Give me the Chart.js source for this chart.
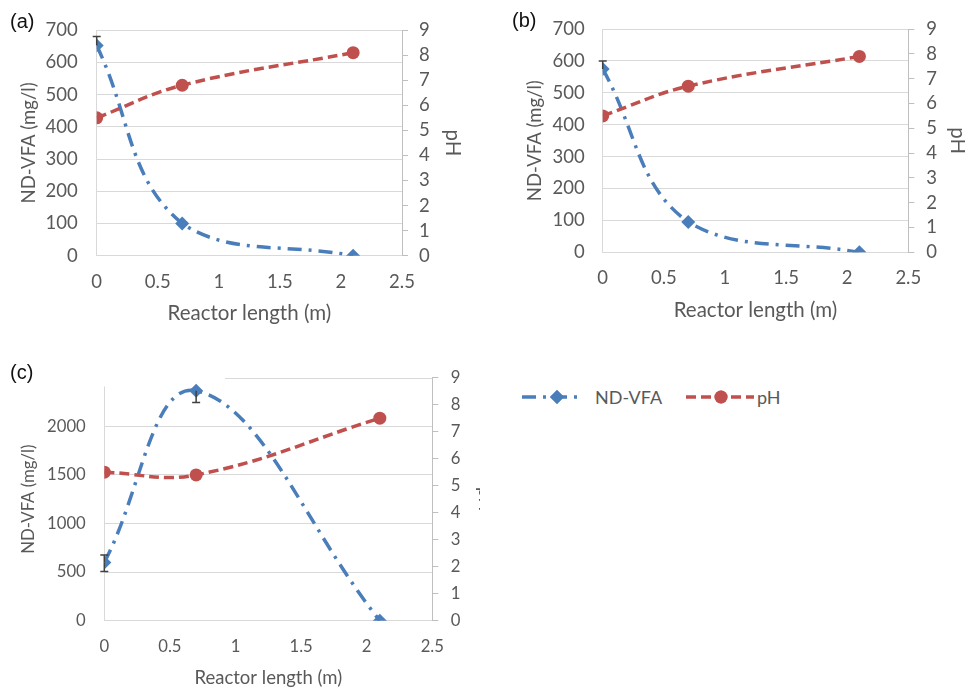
<!DOCTYPE html>
<html>
<head>
<meta charset="utf-8">
<script src="https://cdn.jsdelivr.net/npm/chart.js@4.4.0/dist/chart.umd.min.js"></script>
<style>
  html, body { margin: 0; padding: 0; width: 965px; height: 688px; overflow: hidden; background: #fff; }
  .panel { position: absolute; overflow: hidden; }
  .panel canvas { display: block; }
  .tag { position: absolute; font-family: "Liberation Sans", Arial, sans-serif; font-size: 20px; line-height: 20px; color: #111; }
  .legItem { position: absolute; top: 386px; height: 22px; display: flex; align-items: center;
             font-family: Lato, sans-serif; font-size: 18px; color: #595959; }
  .legItem canvas { display: block; }
</style>
</head>
<body>
<div class="panel" style="left:0;top:0;width:480px;height:340px"><canvas id="chartA" width="480" height="340"></canvas></div>
<div class="panel" style="left:480px;top:0;width:485px;height:340px"><canvas id="chartB" width="500" height="340"></canvas></div>
<div class="panel" style="left:0;top:340px;width:480px;height:348px"><canvas id="chartC" width="500" height="360"></canvas></div>
<div class="tag" style="left:10px;top:11px">(a)</div>
<div class="tag" style="left:512px;top:10px">(b)</div>
<div class="tag" style="left:10px;top:362px">(c)</div>
<div id="legend"></div>

<script>
// Délka reaktoru (m) - společná osa x
const reactorLength = [0, 0.7, 2.1];

// (a)
const vfaA = [652, 100, 0];
const phA = [5.5, 6.8, 8.1];
const vfaErrUpA = [28, 0, 0];
const vfaErrDownA = [0, 0, 0];

// (b)
const vfaB = [575, 95, 0];
const phB = [5.5, 6.7, 7.9];
const vfaErrUpB = [25, 0, 0];
const vfaErrDownB = [0, 0, 0];

// (c)
const vfaC = [600, 2365, 0];
const phC = [5.5, 5.4, 7.5];
const vfaErrUpC = [75, 0, 0];
const vfaErrDownC = [95, 120, 0];

const seriesNames = ['ND-VFA', 'pH'];

const blue = '#4a7ebb';
const red = '#c0504d';
const textGray = '#595959';
const gridGray = '#d9d9d9';
const axisGray = '#bfbfbf';
const fontFamily = 'Lato, sans-serif';

function points(values) {
    return reactorLength.map((x, i) => ({ x: x, y: values[i] }));
}

// Chybové úsečky
const errorBars = {
    id: 'errorBars',
    afterDatasetsDraw(chart, args, opts) {
        const ctx = chart.ctx;
        const x = chart.scales.x, y = chart.scales.y;
        ctx.save();
        ctx.strokeStyle = '#404040';
        ctx.lineWidth = 1.5;
        reactorLength.forEach((len, i) => {
            const px = x.getPixelForValue(len);
            const y0 = y.getPixelForValue(opts.values[i]);
            [[opts.up[i], 1], [opts.down[i], -1]].forEach(([e, dir]) => {
                if (!e) return;
                const ye = y.getPixelForValue(opts.values[i] + dir * e);
                ctx.beginPath();
                ctx.moveTo(px, y0);
                ctx.lineTo(px, ye);
                ctx.moveTo(px - 4, ye);
                ctx.lineTo(px + 4, ye);
                ctx.stroke();
            });
        });
        ctx.restore();
    }
};

// (c) - horní mřížka jen částečně, levá osa zkrácená
const partialFrame = {
    id: 'partialFrame',
    beforeDatasetsDraw(chart, args, opts) {
        if (!opts.enabled) return;
        const ctx = chart.ctx;
        const x = chart.scales.x, y = chart.scales.y;
        ctx.save();
        ctx.strokeStyle = gridGray;
        ctx.lineWidth = 1;
        const top = Math.round(y.getPixelForValue(opts.topValue)) + 0.5;
        ctx.beginPath();
        ctx.moveTo(x.getPixelForValue(opts.topFrom), top);
        ctx.lineTo(x.right, top);
        ctx.stroke();
        const lx = Math.round(x.left) + 0.5;
        ctx.beginPath();
        ctx.moveTo(lx, y.getPixelForValue(0));
        ctx.lineTo(lx, y.getPixelForValue(opts.axisTo));
        ctx.stroke();
        ctx.restore();
    }
};

function buildChart(id, vfa, ph, errUp, errDown, p) {
    const tickFont = { family: fontFamily, size: p.tickSize };
    const titleFont = { family: fontFamily, size: p.titleSize };
    const yTitleFont = { family: fontFamily, size: p.yTitleSize };
    const half = p.titleSize * 0.6;
    const yHalf = p.yTitleSize * 0.6;
    return new Chart(document.getElementById(id), {
        type: 'line',
        data: {
            datasets: [{
                label: seriesNames[0],
                data: points(vfa),
                yAxisID: 'y',
                borderColor: blue,
                backgroundColor: blue,
                borderWidth: 3.5,
                borderDash: [14, 7, 3, 7],
                pointStyle: 'rectRot',
                pointRadius: 7,
                pointBorderWidth: 0,
                tension: 0.4,
                order: 2
            }, {
                label: seriesNames[1],
                data: points(ph),
                yAxisID: 'y1',
                borderColor: red,
                backgroundColor: red,
                borderWidth: 3.5,
                borderDash: [10, 5],
                pointStyle: 'circle',
                pointRadius: 6.5,
                pointBorderWidth: 0,
                tension: 0.4,
                order: 1
            }]
        },
        options: {
            responsive: false,
            animation: false,
            devicePixelRatio: 1,
            layout: { padding: { top: p.top, left: 0, right: 0, bottom: 0 } },
            plugins: {
                legend: { display: false },
                tooltip: { enabled: false },
                errorBars: { values: vfa, up: errUp, down: errDown },
                partialFrame: p.frame || { enabled: false }
            },
            scales: {
                x: {
                    type: 'linear', min: 0, max: 2.5,
                    ticks: { stepSize: 0.5, autoSkip: false, color: textGray, font: tickFont, padding: p.xTickPad,
                             callback: v => String(v) },
                    grid: { display: false, drawTicks: false },
                    border: { color: gridGray },
                    title: { display: true, text: 'Reactor length (m)', color: textGray, font: titleFont,
                             padding: { top: 0, bottom: p.xTitleOff - half } },
                    afterFit: s => { s.height = p.xH; }
                },
                y: {
                    position: 'left', min: 0, max: p.vfaMax,
                    ticks: { stepSize: p.vfaStep, autoSkip: false, color: textGray, font: tickFont, padding: p.yTickPad,
                             callback: v => (p.hideTop && v === p.vfaMax) ? '' : String(v) },
                    grid: { drawTicks: false,
                            color: c => (p.hideTop && c.tick && c.tick.value === p.vfaMax) ? 'rgba(0,0,0,0)' : gridGray },
                    border: { display: !p.frame, color: gridGray },
                    title: { display: true, text: 'ND-VFA (mg/l)', color: textGray, font: yTitleFont,
                             padding: { top: p.yTitleOff - yHalf, bottom: 0 } },
                    afterFit: s => { s.width = p.yW; }
                },
                y1: {
                    position: 'right', min: 0, max: 9,
                    ticks: { stepSize: 1, autoSkip: false, color: textGray, font: tickFont, padding: p.y1TickPad },
                    grid: { drawOnChartArea: false, drawTicks: true, tickLength: 6, color: axisGray },
                    border: { color: axisGray },
                    title: { display: true, text: 'pH', color: textGray, font: titleFont,
                             padding: { top: p.y1TitleOff - half, bottom: 0 } },
                    afterFit: s => { s.width = p.y1W; }
                }
            }
        },
        plugins: [errorBars, partialFrame]
    });
}

buildChart('chartA', vfaA, phA, vfaErrUpA, vfaErrDownA, {
    top: 20.7, xH: 84.3, yW: 96.7, y1W: 78,
    tickSize: 18.5, titleSize: 20.5, yTitleSize: 18.5,
    xTickPad: 14.9, yTickPad: 19, y1TickPad: 11,
    xTitleOff: 26.7, yTitleOff: 29, y1TitleOff: 27,
    vfaMax: 700, vfaStep: 100
});

buildChart('chartB', vfaB, phB, vfaErrUpB, vfaErrDownB, {
    top: 20.7, xH: 87.7, yW: 122.7, y1W: 71.7,
    tickSize: 18.5, titleSize: 20.5, yTitleSize: 18.5,
    xTickPad: 14.9, yTickPad: 18, y1TickPad: 12,
    xTitleOff: 29.3, yTitleOff: 55, y1TitleOff: 22,
    vfaMax: 700, vfaStep: 100
});

const chartC = buildChart('chartC', vfaC, phC, vfaErrUpC, vfaErrDownC, {
    top: 37.7, xH: 79.3, yW: 104.3, y1W: 67.7,
    tickSize: 16.7, titleSize: 18.5, yTitleSize: 16.7,
    xTickPad: 16, yTickPad: 18.5, y1TickPad: 12.5,
    xTitleOff: 21.7, yTitleOff: 28.3, y1TitleOff: 15,
    vfaMax: 2500, vfaStep: 500, hideTop: true,
    frame: { enabled: true, topValue: 2500, topFrom: 0.92, axisTo: 2410 }
});

// Legenda vedle grafu (c)
const legendSpots = [
    { left: 522, width: 58, marker: 35, textGap: 15 },
    { left: 686, width: 68, marker: 35, textGap: 3 }
];
chartC.data.datasets.forEach((ds, i) => {
    const spot = legendSpots[i];
    const item = document.createElement('div');
    item.className = 'legItem';
    item.style.left = spot.left + 'px';
    const cv = document.createElement('canvas');
    cv.width = spot.width;
    cv.height = 22;
    const c = cv.getContext('2d');
    c.strokeStyle = ds.borderColor;
    c.lineWidth = ds.borderWidth;
    c.setLineDash(ds.borderDash);
    c.beginPath();
    c.moveTo(0, 11);
    c.lineTo(spot.width, 11);
    c.stroke();
    c.setLineDash([]);
    c.fillStyle = ds.backgroundColor;
    Chart.helpers.drawPoint(c, { pointStyle: ds.pointStyle, radius: ds.pointRadius, borderWidth: 0 }, spot.marker, 11);
    c.fill();
    const label = document.createElement('span');
    label.textContent = ds.label;
    label.style.marginLeft = spot.textGap + 'px';
    item.appendChild(cv);
    item.appendChild(label);
    document.getElementById('legend').appendChild(item);
});
</script>
</body>
</html>
